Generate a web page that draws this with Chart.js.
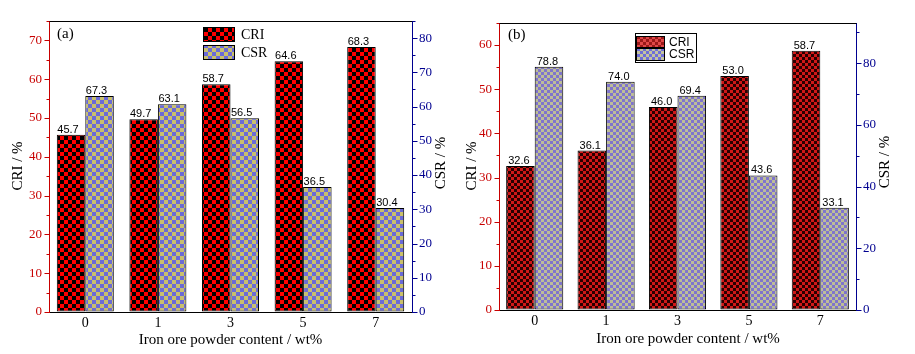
<!DOCTYPE html>
<html><head><meta charset="utf-8">
<script src="https://cdn.jsdelivr.net/npm/chart.js@4.4.1/dist/chart.umd.min.js"></script>
<style>
html,body{margin:0;padding:0;background:#fff;overflow:hidden}
#wrap{position:relative;width:915px;height:354px;background:#fff}
#ca{position:absolute;left:0;top:0}
#cb{position:absolute;left:457px;top:0}
</style></head><body>
<div id="wrap"><canvas id="ca" width="457" height="354"></canvas><canvas id="cb" width="458" height="354"></canvas></div>
<script>
// ---- data ----
const categories = ['0', '1', '3', '5', '7'];
const xTitle = 'Iron ore powder content / wt%';
// panel (a)
const criA = [45.7, 49.7, 58.7, 64.6, 68.3];
const csrA = [63.1, 60.7, 56.6, 36.5, 30.4];          // bar heights as drawn (right axis)
const criLabelsA = ['45.7', '49.7', '58.7', '64.6', '68.3'];
const csrLabelsA = ['67.3', '63.1', '56.5', '36.5', '30.4'];
// panel (b)
const criB = [32.6, 36.1, 46.0, 53.0, 58.7];
const csrB = [78.8, 74.0, 69.4, 43.6, 33.1];
const criLabelsB = ['32.6', '36.1', '46.0', '53.0', '58.7'];
const csrLabelsB = ['78.8', '74.0', '69.4', '43.6', '33.1'];

const RED = '#c80000';
const BLUE = '#000090';
const SERIF = "'Liberation Serif','Times New Roman',serif";
const SANS = "'Liberation Sans',Arial,sans-serif";

function checker(c1, c2, size) {
  const cv = document.createElement('canvas');
  cv.width = cv.height = size * 2;
  const g = cv.getContext('2d');
  g.fillStyle = c1; g.fillRect(0, 0, size * 2, size * 2);
  g.fillStyle = c2; g.fillRect(0, 0, size, size); g.fillRect(size, size, size, size);
  return g.createPattern(cv, 'repeat');
}

const decor = {
  id: 'decor',
  afterDraw(chart, args, o) {
    const ctx = chart.ctx;
    const ca = chart.chartArea;
    const ys = chart.scales.y, yr = chart.scales.y1;
    ctx.save();
    // top frame line
    ctx.strokeStyle = '#000'; ctx.lineWidth = 1;
    ctx.beginPath();
    ctx.moveTo(ca.left, Math.round(ca.top) + 0.5); ctx.lineTo(ca.right + 0.5, Math.round(ca.top) + 0.5);
    ctx.stroke();
    // tick marks
    ctx.strokeStyle = RED; ctx.beginPath();
    ys.ticks.forEach(t => {
      const py = Math.round(ys.getPixelForValue(t.value)) + 0.5;
      const len = (t.value % o.lMaj === 0) ? 5 : 3;
      ctx.moveTo(Math.round(ca.left) + 0.5, py); ctx.lineTo(Math.round(ca.left) + 0.5 - len, py);
    });
    ctx.stroke();
    ctx.strokeStyle = BLUE; ctx.beginPath();
    yr.ticks.forEach(t => {
      const py = Math.round(yr.getPixelForValue(t.value)) + 0.5;
      const len = (t.value % o.rMaj === 0) ? 5 : 3;
      ctx.moveTo(Math.round(ca.right) + 0.5, py); ctx.lineTo(Math.round(ca.right) + 0.5 + len, py);
    });
    ctx.stroke();
    // value labels
    ctx.fillStyle = '#000';
    ctx.font = o.valFont + 'px ' + SANS;
    ctx.textAlign = 'left'; ctx.textBaseline = 'alphabetic';
    [o.criLabels, o.csrLabels].forEach((labs, i) => {
      chart.getDatasetMeta(i).data.forEach((bar, j) => {
        ctx.fillText(labs[j], bar.x - bar.width / 2 + o.valDx, bar.y - 2);
      });
    });
    // axis titles
    ctx.font = '15px ' + SERIF; ctx.textAlign = 'center'; ctx.textBaseline = 'middle';
    const rot = (x, y, s) => { ctx.save(); ctx.translate(x, y); ctx.rotate(-Math.PI / 2); ctx.fillText(s, 0, 0); ctx.restore(); };
    rot(o.lt[0], o.lt[1], 'CRI / %');
    rot(o.rt[0], o.rt[1], 'CSR / %');
    ctx.fillText(xTitle, o.xt[0], o.xt[1]);
    // panel tag
    ctx.textAlign = 'left';
    ctx.fillText(o.tag, o.tagPos[0], o.tagPos[1]);
    // legend
    const L = o.legend;
    if (L.box) {
      ctx.fillStyle = '#fff'; ctx.fillRect(L.box[0], L.box[1], L.box[2], L.box[3]);
      ctx.strokeStyle = '#000'; ctx.strokeRect(L.box[0] + 0.5, L.box[1] + 0.5, L.box[2], L.box[3]);
    }
    const names = ['CRI', 'CSR'];
    ctx.font = L.font; ctx.textBaseline = 'middle'; ctx.textAlign = 'left';
    L.sw.forEach((r, i) => {
      ctx.fillStyle = L.pats[i]; ctx.fillRect(r[0], r[1], r[2], r[3]);
      ctx.strokeStyle = '#000'; ctx.strokeRect(r[0] + 0.5, r[1] + 0.5, r[2] - 1, r[3] - 1);
      ctx.fillStyle = '#000'; ctx.fillText(names[i], L.tx, r[1] + r[3] / 2 + 0.5);
    });
    ctx.restore();
  }
};

function build(id, p) {
  const ctx = document.getElementById(id).getContext('2d');
  const yScale = (pos, max, step, maj, color, w) => ({
    position: pos, min: 0, max: max,
    grid: { display: true, drawOnChartArea: false, drawTicks: false },
    border: { display: true, color: color, width: 1 },
    ticks: {
      stepSize: step, includeBounds: false, autoSkip: false, color: color, padding: 7,
      font: { family: SERIF, size: 13 },
      callback: v => (v % maj === 0 ? String(v) : '')
    },
    afterFit(s) { s.width = w; }
  });
  return new Chart(ctx, {
    type: 'bar',
    data: {
      labels: categories,
      datasets: [
        { label: 'CRI', data: p.cri, yAxisID: 'y', backgroundColor: p.criPat, borderColor: '#000', borderWidth: 1,
          borderSkipped: false, categoryPercentage: p.catPct, barPercentage: 1 },
        { label: 'CSR', data: p.csr, yAxisID: 'y1', backgroundColor: p.csrPat, borderColor: '#000', borderWidth: 1,
          borderSkipped: false, categoryPercentage: p.catPct, barPercentage: 1 }
      ]
    },
    options: {
      responsive: false, animation: false, devicePixelRatio: 1,
      layout: { padding: { top: p.top, left: 0, right: 0, bottom: 0 } },
      plugins: { legend: { display: false }, tooltip: { enabled: false }, decor: p.decor },
      scales: {
        x: {
          grid: { display: true, drawOnChartArea: false, drawTicks: false },
          border: { display: true, color: '#000', width: 1 },
          ticks: { color: '#000', font: { family: SERIF, size: 14 }, padding: 3 },
          afterFit(s) { s.height = p.xH; }
        },
        y: yScale('left', p.lmax, p.lstep, p.decor.lMaj, RED, p.lW),
        y1: yScale('right', p.rmax, p.rstep, p.decor.rMaj, BLUE, p.rW)
      }
    },
    plugins: [decor]
  });
}

build('ca', {
  cri: criA, csr: csrA, top: 21, xH: 42, lW: 49, rW: 45, catPct: 0.785,
  lmax: 75, lstep: 5, rmax: 85, rstep: 5,
  criPat: checker('#ff0000', '#000000', 4), csrPat: checker('#c9c06c', '#6a6ad8', 4),
  decor: {
    lMaj: 10, rMaj: 10, criLabels: criLabelsA, csrLabels: csrLabelsA, valFont: 11, valDx: 0.5,
    lt: [18.5, 166], rt: [441, 163], xt: [230.5, 340], tag: '(a)', tagPos: [57, 34],
    legend: {
      box: null, font: '14px ' + SERIF, tx: 241,
      sw: [[203, 27, 32, 15], [203, 45, 32, 15]],
      pats: [checker('#ff0000', '#000000', 4), checker('#c9c06c', '#6a6ad8', 4)]
    }
  }
});

build('cb', {
  cri: criB, csr: csrB, top: 23, xH: 44, lW: 42, rW: 59, catPct: 0.8,
  lmax: 65, lstep: 5, rmax: 93, rstep: 10,
  criPat: checker('#d01818', '#2a0000', 3), csrPat: checker('#bdbd98', '#7f74cc', 3),
  decor: {
    lMaj: 10, rMaj: 20, criLabels: criLabelsB, csrLabels: csrLabelsB, valFont: 11, valDx: 2,
    lt: [14.7, 166], rt: [428, 162], xt: [231, 339], tag: '(b)', tagPos: [51, 35.5],
    legend: {
      box: [178, 33, 61, 29], font: '12px ' + SANS, tx: 212,
      sw: [[179, 36, 29, 12], [179, 48, 29, 13]],
      pats: [checker('#e04848', '#9a1818', 3), checker('#c4c4a0', '#6f6fd8', 3)]
    }
  }
});
</script>
</body></html>
